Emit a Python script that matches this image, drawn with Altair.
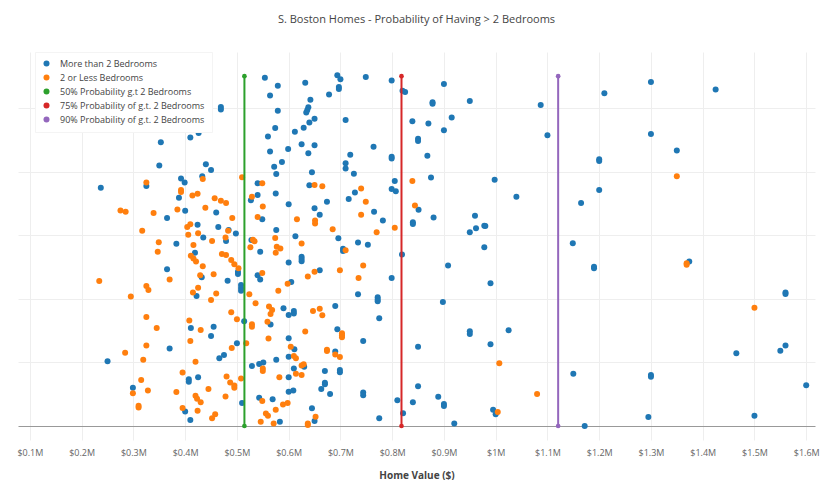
import altair as alt
import pandas as pd

series_names = [
    "More than 2 Bedrooms",
    "2 or Less Bedrooms",
    "50% Probability g.t 2 Bedrooms",
    "75% Probability of g.t. 2 Bedrooms",
    "90% Probability of g.t. 2 Bedrooms",
]
series_colors = ["#1f77b4", "#ff7f0e", "#2ca02c", "#d62728", "#9467bd"]

# Home value in $ millions, and vertical jitter (unitless)
blue_value_m = [
    0.445, 0.469, 0.469, 0.554, 0.579, 0.564, 0.579, 0.599, 0.574, 0.560, 0.564, 0.587, 0.572, 0.576, 0.353,
    0.410, 0.426, 0.350, 0.440, 0.450, 0.433, 0.392, 0.399, 0.237, 0.325, 0.540, 0.388, 0.400, 0.460, 0.365,
    0.424, 0.464, 0.484, 0.498, 0.527, 0.540, 0.549, 0.575, 0.600, 0.435, 0.479, 0.528, 0.383, 0.576,
    0.419, 0.365, 0.502, 0.502, 0.482, 0.432, 0.508, 0.508, 0.508, 0.540, 0.545, 0.545, 0.600, 0.422, 0.590,
    0.600, 0.514, 0.565, 0.411, 0.455, 0.450, 0.370, 0.500, 0.250, 0.466, 0.475, 0.529, 0.543, 0.551, 0.576,
    0.600, 0.407, 0.407, 0.425, 0.299, 0.510, 0.543, 0.569, 0.400, 0.410, 0.583, 0.600, 0.600,
    0.694, 0.700, 0.632, 0.749, 0.799, 0.697, 0.697, 0.678, 0.820, 0.825, 0.900, 0.642, 0.638, 0.636, 0.634,
    0.878, 0.878, 0.950, 0.650, 0.640, 0.629, 0.612, 0.710, 0.839, 0.870, 0.915, 0.900, 0.850, 0.850, 0.625,
    0.650, 0.638, 0.764, 0.719, 0.710, 0.710, 0.799, 0.799, 0.868, 0.645, 0.726, 0.640, 0.805, 0.875, 0.799,
    0.807, 0.728, 0.674, 0.716, 0.650, 0.660, 0.765, 0.782, 0.840, 0.840, 0.851, 0.880, 0.960, 0.962, 0.950,
    0.978, 0.613, 0.696, 0.734, 0.753,
    0.705, 0.705, 0.819, 0.625, 0.625, 0.625, 0.660, 0.605, 0.799, 0.908, 0.978, 0.734, 0.772, 0.772, 0.772,
    0.690, 0.898, 0.610, 0.610, 0.775, 0.694, 0.950, 0.950, 0.600, 0.744, 0.611, 0.690, 0.850, 0.630, 0.610,
    0.670, 0.699, 0.699, 0.670, 0.670, 0.663, 0.680, 0.609, 0.744, 0.744, 0.850, 0.889, 0.900, 0.900, 0.810,
    0.840, 0.645, 0.821, 0.650, 0.775, 0.920,
    1.087, 1.100, 1.210, 1.300, 1.425, 1.300, 1.350, 1.200, 1.200, 0.998, 1.040, 1.200, 1.165, 0.980, 1.149,
    1.190, 1.190, 1.374, 0.990, 1.560, 1.560, 1.025, 0.990, 1.465, 1.550, 1.560, 1.150, 1.300, 1.300, 1.600,
    0.995, 1.000, 1.295, 1.500, 1.172,
]
blue_jitter = [
    1.032, 1.003, 0.995, 1.095, 1.070, 1.039, 0.991, 0.871, 0.937, 0.910, 0.863, 0.830, 0.815, 0.792, 0.892,
    0.907, 0.921, 0.819, 0.823, 0.805, 0.785, 0.778, 0.766, 0.749, 0.755, 0.763, 0.718, 0.677, 0.671, 0.654,
    0.633, 0.626, 0.616, 0.605, 0.710, 0.726, 0.650, 0.731, 0.697, 0.593, 0.582, 0.585, 0.573, 0.616,
    0.545, 0.493, 0.485, 0.478, 0.457, 0.468, 0.443, 0.434, 0.425, 0.474, 0.461, 0.548, 0.514, 0.409, 0.370,
    0.349, 0.329, 0.319, 0.308, 0.312, 0.283, 0.244, 0.260, 0.204, 0.213, 0.223, 0.189, 0.195, 0.200, 0.208,
    0.218, 0.147, 0.139, 0.153, 0.120, 0.072, 0.089, 0.084, 0.046, 0.019, 0.013, 0.153, 0.108,
    1.103, 1.090, 1.079, 1.097, 1.086, 1.066, 1.060, 1.042, 1.054, 1.050, 1.075, 1.026, 1.002, 0.994, 0.986,
    1.018, 1.013, 1.022, 0.966, 0.954, 0.938, 0.925, 0.962, 0.958, 0.951, 0.970, 0.930, 0.903, 0.896, 0.886,
    0.883, 0.858, 0.878, 0.853, 0.826, 0.810, 0.847, 0.841, 0.850, 0.798, 0.793, 0.757, 0.770, 0.781, 0.745,
    0.738, 0.734, 0.705, 0.714, 0.685, 0.664, 0.674, 0.646, 0.641, 0.635, 0.680, 0.656, 0.661, 0.622, 0.609,
    0.630, 0.597, 0.590, 0.577, 0.570,
    0.557, 0.550, 0.539, 0.532, 0.525, 0.518, 0.490, 0.453, 0.465, 0.505, 0.562, 0.414, 0.405, 0.398, 0.392,
    0.377, 0.390, 0.362, 0.354, 0.339, 0.304, 0.298, 0.289, 0.276, 0.267, 0.241, 0.234, 0.249, 0.186, 0.181,
    0.173, 0.176, 0.169, 0.136, 0.131, 0.116, 0.101, 0.112, 0.105, 0.097, 0.125, 0.092, 0.069, 0.063, 0.081,
    0.075, 0.056, 0.040, 0.016, 0.024, 0.008,
    1.009, 0.914, 1.046, 1.082, 1.058, 0.918, 0.866, 0.839, 0.833, 0.774, 0.721, 0.742, 0.701, 0.629, 0.575,
    0.501, 0.496, 0.517, 0.449, 0.420, 0.415, 0.301, 0.257, 0.229, 0.237, 0.253, 0.164, 0.160, 0.155, 0.128,
    0.051, 0.037, 0.028, 0.032, 0.000,
]
orange_value_m = [
    0.325, 0.392, 0.392, 0.434, 0.414, 0.424, 0.457, 0.469, 0.479, 0.510, 0.549, 0.529, 0.550, 0.540, 0.275,
    0.285, 0.339, 0.385, 0.439, 0.491, 0.410, 0.404, 0.425, 0.406, 0.317, 0.483, 0.452, 0.478, 0.349, 0.531,
    0.574,
    0.347, 0.416, 0.411, 0.416, 0.421, 0.434, 0.471, 0.479, 0.489, 0.495, 0.503, 0.526, 0.534, 0.577, 0.584,
    0.575, 0.549, 0.234, 0.325, 0.329, 0.370, 0.429, 0.455, 0.425, 0.415, 0.460, 0.450, 0.295, 0.524, 0.536,
    0.562, 0.568, 0.565, 0.580, 0.325, 0.345, 0.408, 0.430, 0.410, 0.489, 0.500, 0.529, 0.529, 0.559, 0.561,
    0.518, 0.490, 0.325, 0.284, 0.319, 0.420, 0.550, 0.550, 0.395, 0.480, 0.487, 0.495, 0.495, 0.508, 0.582,
    0.315, 0.299, 0.328, 0.383, 0.445, 0.420, 0.423, 0.430, 0.478, 0.549, 0.310, 0.310, 0.395, 0.424, 0.458,
    0.452, 0.575, 0.589, 0.556, 0.560, 0.546, 0.571,
    0.650, 0.665, 0.740, 0.749, 0.839, 0.844, 0.616, 0.651, 0.651, 0.740, 0.685, 0.770, 0.805, 0.625,
    0.710, 0.744, 0.650, 0.637, 0.699, 0.735, 0.598, 0.647, 0.660, 0.665, 0.632, 0.703, 0.703, 0.703, 0.604,
    0.674, 0.674, 0.690, 0.699, 0.610, 0.614, 0.625, 0.629, 0.614, 0.625, 0.598, 0.652, 0.637, 0.637,
    1.350, 1.369, 1.369, 1.500, 1.007, 1.080, 1.004,
]
orange_jitter = [
    0.766, 0.742, 0.736, 0.777, 0.725, 0.730, 0.716, 0.708, 0.701, 0.782, 0.763, 0.721, 0.690, 0.657, 0.678,
    0.674, 0.670, 0.681, 0.686, 0.654, 0.634, 0.626, 0.606, 0.601, 0.614, 0.614, 0.582, 0.593, 0.578, 0.586,
    0.591,
    0.548, 0.569, 0.535, 0.527, 0.517, 0.502, 0.541, 0.538, 0.522, 0.509, 0.496, 0.562, 0.581, 0.564, 0.558,
    0.545, 0.481, 0.456, 0.440, 0.428, 0.461, 0.474, 0.477, 0.435, 0.420, 0.417, 0.396, 0.407, 0.414, 0.386,
    0.376, 0.365, 0.352, 0.425, 0.343, 0.308, 0.332, 0.302, 0.267, 0.358, 0.336, 0.320, 0.312, 0.328, 0.275,
    0.260, 0.245, 0.253, 0.230, 0.208, 0.202, 0.181, 0.173, 0.168, 0.156, 0.137, 0.127, 0.120, 0.149, 0.153,
    0.145, 0.103, 0.112, 0.107, 0.116, 0.095, 0.086, 0.075, 0.093, 0.079, 0.064, 0.058, 0.057, 0.048, 0.037,
    0.024, 0.051, 0.068, 0.039, 0.032, 0.013, 0.008,
    0.758, 0.754, 0.747, 0.705, 0.770, 0.693, 0.650, 0.646, 0.637, 0.664, 0.619, 0.609, 0.623, 0.574,
    0.553, 0.505, 0.485, 0.470, 0.490, 0.465, 0.447, 0.362, 0.369, 0.348, 0.297, 0.292, 0.285, 0.279, 0.249,
    0.240, 0.236, 0.225, 0.217, 0.220, 0.213, 0.190, 0.194, 0.164, 0.160, 0.072, 0.029, 0.003, 0.008,
    0.785, 0.512, 0.507, 0.372, 0.197, 0.101, 0.044,
]

threshold_value_m = [0.5145, 0.818, 1.1207]
threshold_span = [0.0, 1.1]
x_tick_values = [0.1, 0.2, 0.3, 0.4, 0.5, 0.6, 0.7, 0.8, 0.9, 1.0, 1.1, 1.2, 1.3, 1.4, 1.5, 1.6]
y_grid_values = [0.0, 0.2, 0.4, 0.6, 0.8, 1.0]

points_df = pd.DataFrame({
    "value": blue_value_m + orange_value_m,
    "jitter": blue_jitter + orange_jitter,
    "series": [series_names[0]] * len(blue_value_m) + [series_names[1]] * len(orange_value_m),
})

line_rows = []
for name, v in zip(series_names[2:], threshold_value_m):
    for yy in threshold_span:
        line_rows.append({"value": v, "jitter": yy, "series": name})
lines_df = pd.DataFrame(line_rows)

FONT = "Open Sans"
LINE_SYMBOL = ("M-3.33,-0.33L3.33,-0.33L3.33,0.33L-3.33,0.33Z "
               "M0.9,0A0.9,0.9 0 1 1 -0.9,0A0.9,0.9 0 1 1 0.9,0Z")

x_scale = alt.Scale(domain=[0.077, 1.617], nice=False, zero=False)
y_scale = alt.Scale(domain=[-0.044, 1.176], nice=False, zero=False)

x_axis = alt.Axis(
    values=x_tick_values,
    labelExpr="'$' + format(datum.value, '~g') + 'M'",
    title="Home Value ($)",
    titleFont=FONT, titleFontSize=10, titleFontWeight="bold", titleColor="#444",
    titlePadding=13,
    labelFont=FONT, labelFontSize=9, labelColor="#666", labelPadding=8,
    ticks=False, domain=False, grid=True, gridColor="#eeeeee",
)
y_axis = alt.Axis(
    values=y_grid_values, labels=False, ticks=False, domain=False, title=None,
    grid=True,
    gridColor={"condition": {"test": "datum.value === 0", "value": "#999999"}, "value": "#eeeeee"},
)

legend = alt.Legend(
    title=None, orient="none", legendX=17, legendY=0, padding=7,
    fillColor="white", strokeColor="#f4f4f4",
    labelFont=FONT, labelFontSize=9, labelColor="#444", labelLimit=300,
    labelOffset=9, rowPadding=4, symbolSize=36, symbolStrokeWidth=0,
)

points = alt.Chart(points_df).mark_point(filled=True, opacity=1, size=36, strokeWidth=0).encode(
    x=alt.X("value:Q", scale=x_scale, axis=x_axis),
    y=alt.Y("jitter:Q", scale=y_scale, axis=y_axis),
    color=alt.Color("series:N", scale=alt.Scale(domain=series_names, range=series_colors), legend=legend),
    shape=alt.Shape("series:N",
                    scale=alt.Scale(domain=series_names,
                                    range=["circle", "circle", LINE_SYMBOL, LINE_SYMBOL, LINE_SYMBOL]),
                    legend=legend),
)

lines = alt.Chart(lines_df).mark_line(
    strokeWidth=2, point=alt.OverlayMarkDef(filled=True, size=22, opacity=1)
).encode(
    x=alt.X("value:Q", scale=x_scale, axis=x_axis),
    y=alt.Y("jitter:Q", scale=y_scale, axis=y_axis),
    color=alt.Color("series:N", scale=alt.Scale(domain=series_names[2:], range=series_colors[2:]), legend=None),
)

chart = alt.layer(points, lines).resolve_scale(color="independent").properties(
    width=797, height=388,
    autosize="none",
    padding={"left": 10, "top": 44, "right": 5, "bottom": 40},
    title=alt.Title(
        "S. Boston Homes - Probability of Having > 2 Bedrooms",
        font=FONT, fontSize=11, fontWeight="normal", color="#444",
        anchor="middle", offset=27,
    ),
).configure_view(stroke=None)

chart.save("out.html", embed_options={"renderer": "svg", "actions": False})
